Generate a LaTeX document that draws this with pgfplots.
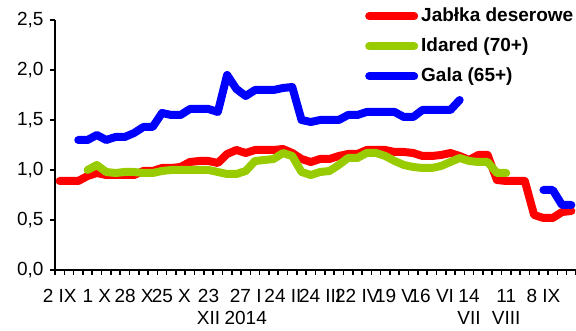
\documentclass[border=0pt]{standalone}
\usepackage{fontspec}
\setmainfont{Liberation Sans}
\usepackage{pgfplots}
\usepackage{pgfplotstable}
\pgfplotsset{compat=1.18}
\definecolor{cred}{RGB}{255,0,0}
\definecolor{cgreen}{RGB}{153,204,0}
\definecolor{cblue}{RGB}{0,0,255}

\pgfplotstableread{
i v
0 0.89
1 0.89
2 0.89
3 0.94
4 0.97
5 0.95
6 0.95
7 0.95
8 0.95
9 0.99
10 0.99
11 1.02
12 1.02
13 1.03
14 1.08
15 1.09
16 1.09
17 1.07
18 1.16
19 1.20
20 1.17
21 1.20
22 1.20
23 1.20
24 1.21
25 1.17
26 1.11
27 1.08
28 1.11
29 1.11
30 1.14
31 1.16
32 1.16
33 1.20
34 1.20
35 1.20
36 1.18
37 1.18
38 1.17
39 1.14
40 1.14
41 1.15
42 1.17
43 1.14
44 1.10
45 1.15
46 1.15
47 0.90
48 0.89
49 0.89
50 0.89
51 0.55
52 0.52
53 0.52
54 0.58
55 0.59
}\tabred

\pgfplotstableread{
i v
3 1.00
4 1.05
5 0.98
6 0.97
7 0.98
8 0.98
9 0.97
10 0.97
11 0.99
12 1.00
13 1.00
14 1.00
15 1.00
16 1.00
17 0.98
18 0.96
19 0.96
20 0.99
21 1.09
22 1.10
23 1.11
24 1.17
25 1.14
26 0.98
27 0.95
28 0.98
29 0.99
30 1.05
31 1.12
32 1.12
33 1.17
34 1.17
35 1.14
36 1.09
37 1.05
38 1.03
39 1.02
40 1.02
41 1.04
42 1.08
43 1.12
44 1.09
45 1.08
46 1.08
47 0.97
48 0.97
}\tabgreen

\pgfplotstableread{
i v
2 1.30
3 1.30
4 1.35
5 1.30
6 1.33
7 1.33
8 1.37
9 1.43
10 1.43
11 1.57
12 1.55
13 1.55
14 1.61
15 1.61
16 1.61
17 1.58
18 1.95
19 1.81
20 1.74
21 1.80
22 1.80
23 1.80
24 1.82
25 1.83
26 1.50
27 1.48
28 1.50
29 1.50
30 1.50
31 1.55
32 1.55
33 1.58
34 1.58
35 1.58
36 1.58
37 1.53
38 1.53
39 1.60
40 1.60
41 1.60
42 1.60
43 1.70
44 nan
52 0.80
53 0.80
54 0.65
55 0.65
}\tabblue

\begin{document}
\begin{tikzpicture}
\useasboundingbox (-55pt,-61pt) rectangle (521pt,270pt);
\begin{axis}[
  at={(0pt,0pt)}, anchor=south west,
  scale only axis, width=521pt, height=250pt,
  xmin=-0.5, xmax=55.5, ymin=0, ymax=2.5,
  clip=false,
  axis x line*=bottom, axis y line*=left,
  axis line style={line width=1.6pt, black},
  ytick={0,0.5,...,2.5},
  minor ytick={0,0.5,...,2.5},
  xtick={0,4,...,52},
  xticklabels={2 IX,1 X,28 X,25 X,23\\XII,27 I\\2014,24 II,24 III,22 IV,19 V,16 VI,14\\VII,11\\VIII,8 IX},
  minor xtick={-0.5,0.5,...,55.5},
  tick align=outside,
  major tick length=0pt, minor tick length=5pt,
  every tick/.style={black, line width=1.6pt},
  tick label style={font=\fontsize{19pt}{22pt}\selectfont},
  xticklabel style={align=center, anchor=north, yshift=-16pt},
  yticklabel style={anchor=east, xshift=-8pt},
  /pgf/number format/.cd, fixed, fixed zerofill, precision=1, use comma, assume math mode=true,
  /pgfplots/.cd,
  unbounded coords=jump,
  legend style={draw=none, fill=none, at={(axis description cs:0.595,1.052)}, anchor=north west,
    font=\bfseries\fontsize{19pt}{19pt}\selectfont, row sep=12pt, column sep=3pt, inner sep=0pt,
    nodes={inner sep=0pt, text height=14pt, text depth=4pt}},
  legend cell align=left,
  legend image code/.code={\draw[#1, line cap=round] (4pt,0pt) -- (49pt,0pt);},
  every axis plot/.append style={line width=8pt, line join=round, line cap=round},
]
\addplot[cred] table[x=i,y=v] {\tabred};
\addlegendentry{Jabłka deserowe}
\addplot[cgreen] table[x=i,y=v] {\tabgreen};
\addlegendentry{Idared (70+)}
\addplot[cblue] table[x=i,y=v] {\tabblue};
\addlegendentry{Gala (65+)}
\end{axis}
\end{tikzpicture}
\end{document}
